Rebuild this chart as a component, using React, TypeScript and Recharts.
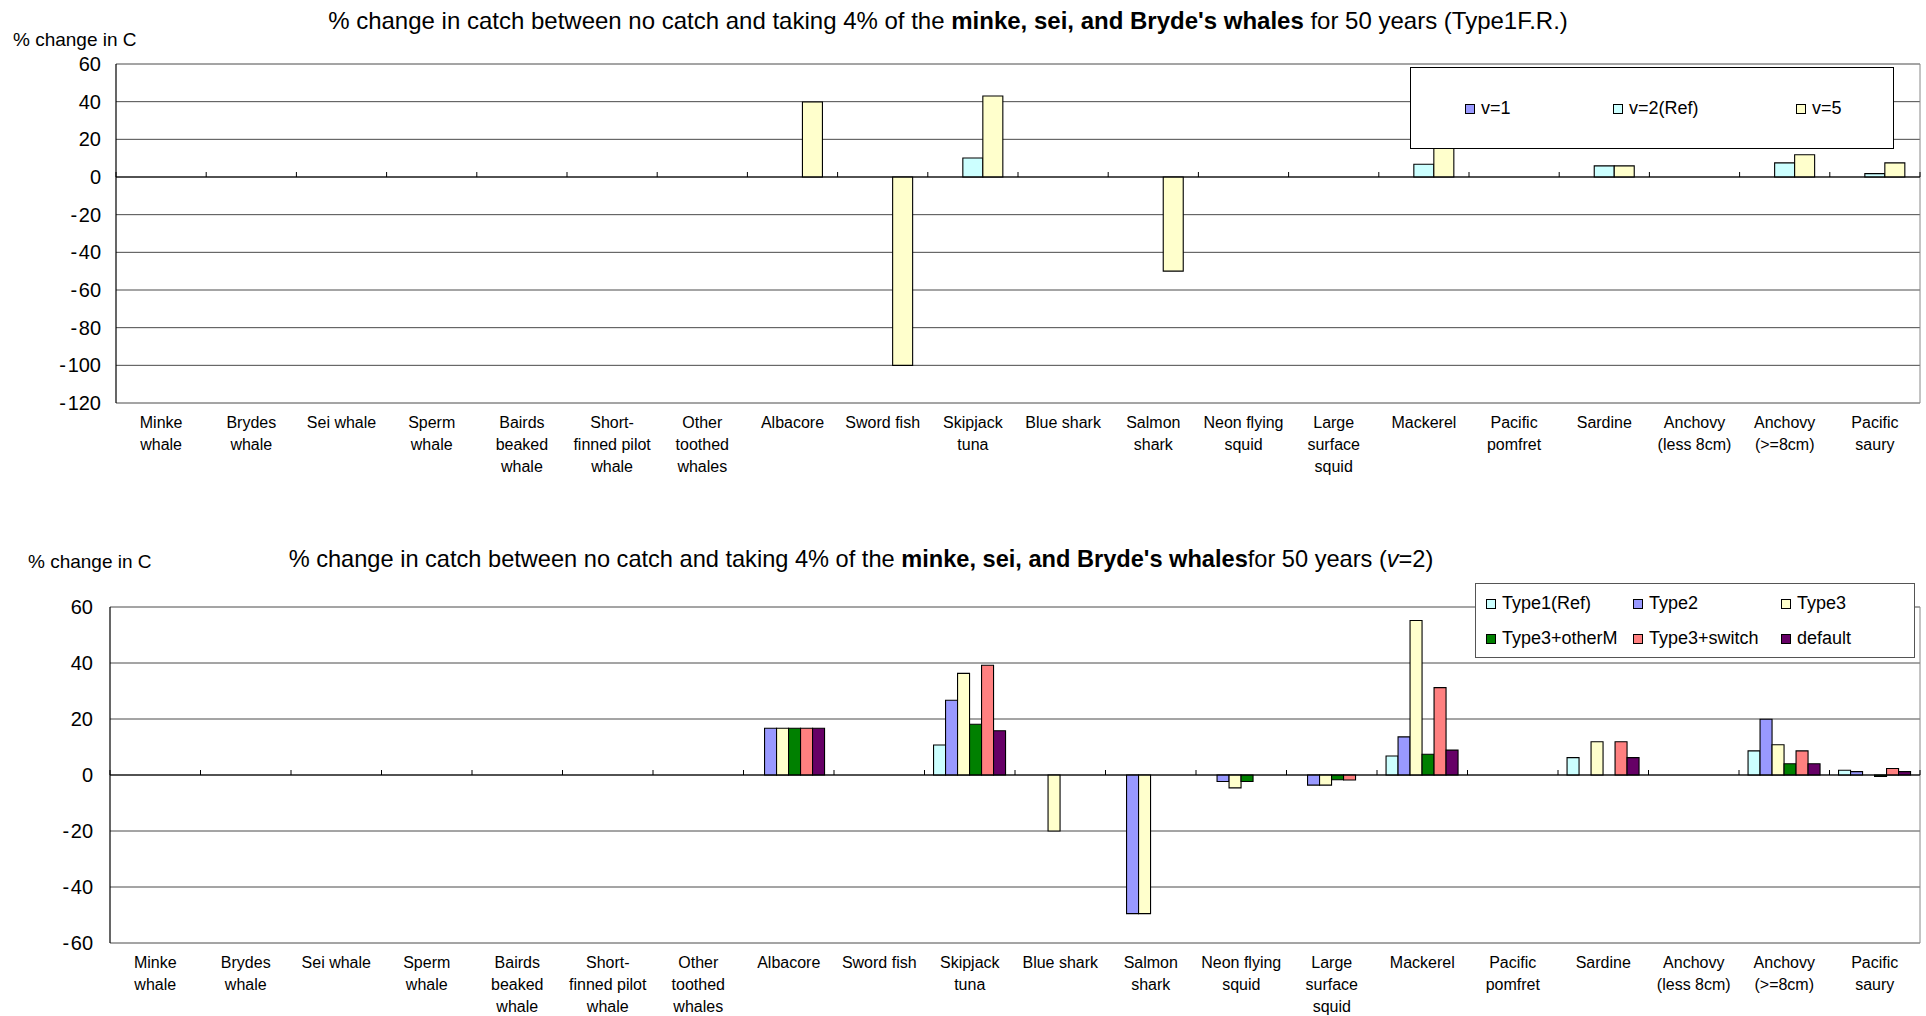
import React from 'react';
import { BarChart, Bar, XAxis, YAxis, CartesianGrid, ReferenceLine } from 'recharts';

const FONT = '"Liberation Sans", Arial, sans-serif';

// category labels, line breaks as in the original axis
const categories = [
  'Minke\nwhale', 'Brydes\nwhale', 'Sei whale', 'Sperm\nwhale', 'Bairds\nbeaked\nwhale',
  'Short-\nfinned pilot\nwhale', 'Other\ntoothed\nwhales', 'Albacore', 'Sword fish', 'Skipjack\ntuna',
  'Blue shark', 'Salmon\nshark', 'Neon flying\nsquid', 'Large\nsurface\nsquid', 'Mackerel',
  'Pacific\npomfret', 'Sardine', 'Anchovy\n(less 8cm)', 'Anchovy\n(>=8cm)', 'Pacific\nsaury',
];

// upper panel: Type1 F.R., different v
const topNames = ['v=1', 'v=2(Ref)', 'v=5'];
const v1 = [0, 0, 0, 0, 0, 0, 0, 0, 0, 0, 0, 0, 0, 0, 0, 0, 0, 0, 0, 0];
const v2Ref = [0, 0, 0, 0, 0, 0, 0, 0, 0, 10.1, 0, 0, 0, 0, 6.8, 0, 5.9, 0, 7.5, 1.8];
const v5 = [0, 0, 0, 0, 0, 0, 0, 39.8, -100, 43, 0, -50, 0, 0, 17, 0, 5.9, 0, 11.8, 7.5];
const topTicks = [60, 40, 20, 0, -20, -40, -60, -80, -100, -120];

// lower panel: v=2, different functional types
const bottomNames = ['Type1(Ref)', 'Type2', 'Type3', 'Type3+otherM', 'Type3+switch', 'default'];
const type1Ref = [0, 0, 0, 0, 0, 0, 0, 0, 0, 10.7, 0, 0, 0, 0, 6.8, 0, 6.2, 0, 8.6, 1.7];
const type2 = [0, 0, 0, 0, 0, 0, 0, 16.7, 0, 26.7, 0, -49.5, -2.3, -3.6, 13.6, 0, 0, 0, 19.9, 1.2];
const type3 = [0, 0, 0, 0, 0, 0, 0, 16.7, 0, 36.3, -20, -49.5, -4.6, -3.6, 55.2, 0, 11.9, 0, 10.8, 0];
const type3OtherM = [0, 0, 0, 0, 0, 0, 0, 16.7, 0, 18.1, 0, 0, -2.3, -1.7, 7.4, 0, 0, 0, 4.0, -0.5];
const type3Switch = [0, 0, 0, 0, 0, 0, 0, 16.7, 0, 39.2, 0, 0, 0, -1.8, 31.2, 0, 11.9, 0, 8.6, 2.3];
const defaultType = [0, 0, 0, 0, 0, 0, 0, 16.7, 0, 15.8, 0, 0, 0, 0, 8.9, 0, 6.2, 0, 4.0, 1.2];
const bottomTicks = [60, 40, 20, 0, -20, -40, -60];

const topColors = ['#9999FF', '#CCFFFF', '#FFFFCC'];
const bottomColors = ['#CCFFFF', '#9999FF', '#FFFFCC', '#008000', '#FF8080', '#660066'];

const topSeries = [v1, v2Ref, v5];
const bottomSeries = [type1Ref, type2, type3, type3OtherM, type3Switch, defaultType];

const buildRows = (series: number[][]) =>
  categories.map((name, i) => {
    const row: Record<string, string | number> = { name };
    series.forEach((vals, s) => {
      row['s' + s] = vals[i];
    });
    return row;
  });

const topData = buildRows(topSeries);
const bottomData = buildRows(bottomSeries);

const fmtTick = (v: number) => (v < 0 ? '-\u200A' + Math.abs(v) : String(v));

function CategoryTick(props: any) {
  const { x, y, payload } = props;
  const lines = String(payload.value).split('\n');
  return (
    <text x={x} y={y} textAnchor="middle" fontSize={16} fill="#000" fontFamily={FONT}>
      {lines.map((line, i) => (
        <tspan key={i} x={x} dy={i === 0 ? 25 : 22}>
          {line}
        </tspan>
      ))}
    </text>
  );
}

// category axis crossing at zero, with tick marks between categories
const zeroAxis = (count: number) => (p: any) => {
  const { x1, y1, x2 } = p;
  const step = (x2 - x1) / count;
  return (
    <g>
      <line x1={x1} y1={y1} x2={x2} y2={y1} stroke="#000" strokeWidth={1.2} />
      {Array.from({ length: count + 1 }, (_, i) => (
        <line key={i} x1={x1 + i * step} x2={x1 + i * step} y1={y1 - 5} y2={y1} stroke="#000" />
      ))}
    </g>
  );
};

const rightEdge = ({ offset }: any) => [offset.left + offset.width];

function Panel(props: {
  data: any[];
  names: string[];
  colors: string[];
  ticks: number[];
  height: number;
  top: number;
  axisHeight: number;
  axisWidth: number;
  tickMargin: number;
  gap: string;
}) {
  const { data, names, colors, ticks, height, top, axisHeight, axisWidth, tickMargin, gap } = props;
  return (
    <BarChart
      width={1926}
      height={height}
      data={data}
      margin={{ top, right: 6, left: 0, bottom: 0 }}
      barCategoryGap={gap}
      barGap={0}
    >
      <CartesianGrid vertical={false} stroke="#4a4a4a" />
      <CartesianGrid horizontal={false} stroke="#888" verticalCoordinatesGenerator={rightEdge} />
      <XAxis
        dataKey="name"
        interval={0}
        height={axisHeight}
        axisLine={false}
        tickLine={false}
        tickSize={0}
        tickMargin={0}
        tick={<CategoryTick />}
      />
      <YAxis
        width={axisWidth}
        domain={[ticks[ticks.length - 1], ticks[0]]}
        ticks={ticks}
        interval={0}
        tickLine={false}
        tickSize={0}
        tickMargin={tickMargin}
        tickFormatter={fmtTick}
        axisLine={{ stroke: '#000', strokeWidth: 1.2 }}
        tick={{ fill: '#000', fontSize: 20, fontFamily: FONT }}
      />
      {names.map((n, s) => (
        <Bar
          key={n}
          dataKey={'s' + s}
          name={n}
          fill={colors[s]}
          stroke="#000"
          strokeWidth={1.1}
          isAnimationActive={false}
        />
      ))}
      <ReferenceLine y={0} shape={zeroAxis(data.length)} />
    </BarChart>
  );
}

function Swatch({ color }: { color: string }) {
  return (
    <span
      style={{
        display: 'inline-block',
        width: 8,
        height: 8,
        background: color,
        border: '1px solid #000',
        marginRight: 6,
        verticalAlign: 'middle',
      }}
    />
  );
}

export default function App() {
  const text: React.CSSProperties = { position: 'absolute', fontFamily: FONT, color: '#000', whiteSpace: 'nowrap' };
  return (
    <div style={{ position: 'absolute', left: 0, top: 0, width: 1926, height: 1016, background: '#fff', overflow: 'hidden' }}>
      <div style={{ ...text, left: 948, top: 7, fontSize: 24, transform: 'translateX(-50%)' }}>
        % change in catch between no catch and taking 4% of the <b>minke, sei, and Bryde's whales</b> for 50 years (Type1F.R.)
      </div>
      <div style={{ ...text, left: 13, top: 29, fontSize: 19 }}>% change in C</div>
      <div style={{ position: 'absolute', left: 0, top: 0 }}>
        <Panel data={topData} names={topNames} colors={topColors} ticks={topTicks} height={480} top={64} axisHeight={77} axisWidth={116} tickMargin={15} gap="16.67%" />
      </div>
      <div
        style={{
          position: 'absolute',
          left: 1410,
          top: 67,
          width: 484,
          height: 82,
          border: '1px solid #000',
          background: '#fff',
          fontFamily: FONT,
          fontSize: 18,
          display: 'grid',
          gridTemplateColumns: '148px 183px auto',
          alignItems: 'center',
          paddingLeft: 54,
          boxSizing: 'border-box',
        }}
      >
        {topNames.map((n, i) => (
          <span key={n}>
            <Swatch color={topColors[i]} />
            {n}
          </span>
        ))}
      </div>

      <div style={{ ...text, left: 861, top: 546, fontSize: 23.6, transform: 'translateX(-50%)' }}>
        % change in catch between no catch and taking 4% of the <b>minke, sei, and Bryde's whales</b>for 50 years (<i>v</i>=2)
      </div>
      <div style={{ ...text, left: 28, top: 551, fontSize: 19 }}>% change in C</div>
      <div style={{ position: 'absolute', left: 0, top: 520 }}>
        <Panel data={bottomData} names={bottomNames} colors={bottomColors} ticks={bottomTicks} height={496} top={87} axisHeight={73} axisWidth={110} tickMargin={17} gap="10%" />
      </div>
      <div
        style={{
          position: 'absolute',
          left: 1475,
          top: 583,
          width: 440,
          height: 75,
          border: '1px solid #555',
          background: '#fff',
          fontFamily: FONT,
          fontSize: 18,
          display: 'grid',
          gridTemplateColumns: '147px 148px auto',
          gridAutoRows: '35px',
          alignContent: 'center',
          alignItems: 'center',
          paddingLeft: 10,
          boxSizing: 'border-box',
        }}
      >
        {bottomNames.map((n, i) => (
          <span key={n}>
            <Swatch color={bottomColors[i]} />
            {n}
          </span>
        ))}
      </div>
    </div>
  );
}
